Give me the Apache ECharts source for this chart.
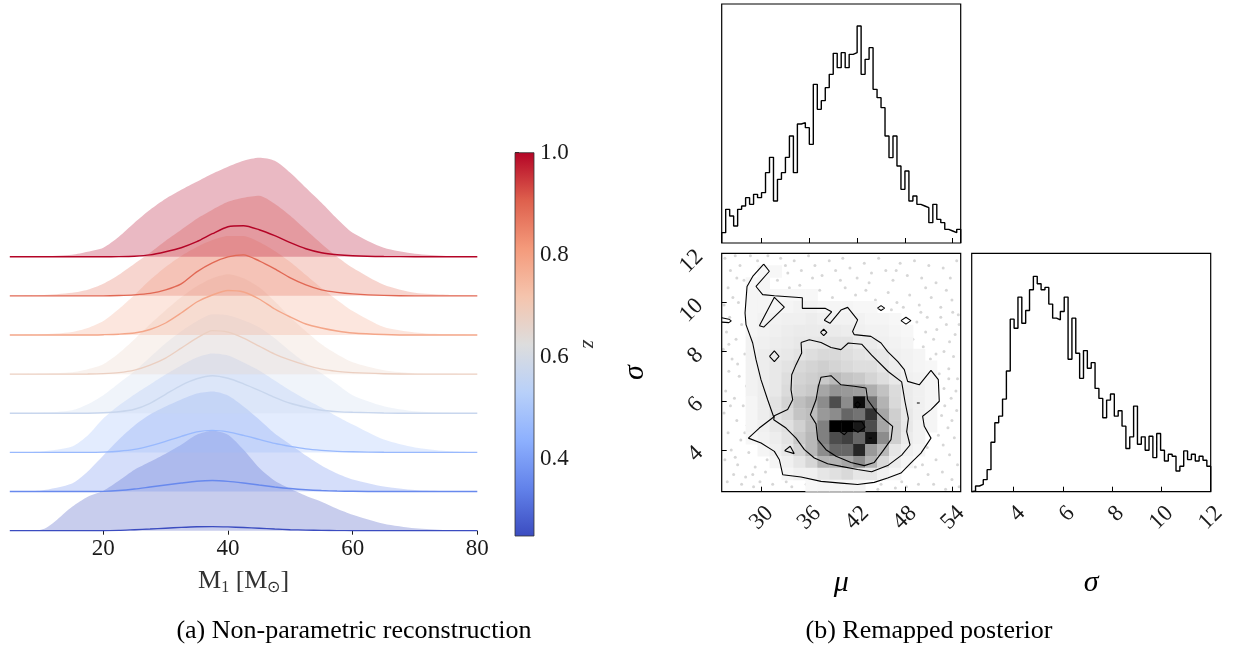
<!DOCTYPE html>
<html>
<head>
<meta charset="utf-8">
<title>Mass reconstruction and remapped posterior</title>
<script src="https://cdn.jsdelivr.net/npm/echarts@6/dist/echarts.min.js"></script>
<style>
  html, body { margin: 0; padding: 0; background: #fff; }
  #chart { width: 1236px; height: 646px; }
</style>
</head>
<body>
<div id="chart"></div>
<script>
// ---------- (a) ridges, bottom (lowest z) to top (z = 1) ----------
const massGrid = [5, 10, 15, 17.5, 20, 22.5, 25, 27.5, 30, 32.5, 35, 37.5, 40, 42.5, 45, 47.5, 50, 52.5, 55, 57.5, 60, 65, 70, 75, 80];
const massTicks = [20, 40, 60, 80];
const ridgeZ = [0.25, 0.357, 0.464, 0.571, 0.679, 0.786, 0.893, 1.0];
const zTicks = [0.4, 0.6, 0.8, 1.0];

// upper band of each ridge
const band0 = [0, 1, 24, 34, 40, 50, 61, 69, 77, 86, 96, 100, 96, 81, 63, 50, 42, 35, 29, 22, 16, 7, 2.5, 0.7, 0.2];
const band1 = [0, 1, 8, 20, 36, 52, 66, 77, 85, 92, 98, 100, 96, 85, 72, 58, 47, 36, 26, 18, 12, 5, 1.5, 0.4, 0];
const band2 = [0, 1, 6, 17, 34, 47, 58, 68, 78, 87, 95, 99, 97, 90, 82, 72, 62, 53, 45, 36, 28, 13, 5, 1.5, 0.3];
const band3 = [0, 0.5, 3, 9, 18, 30, 42, 56, 70, 82, 92, 99, 98, 93, 86, 75, 62, 50, 40, 29, 18, 7, 2, 0.5, 0];
const band4 = [0, 0.5, 2, 5, 10, 21, 35, 50, 64, 77, 88, 96, 100, 96, 87, 73, 57, 43, 30, 20, 12, 4, 1, 0.3, 0];
const band5 = [0, 0.5, 3, 7, 14, 26, 40, 55, 68, 79, 88, 95, 99, 99, 93, 84, 73, 60, 47, 35, 24, 8, 2.5, 0.7, 0.2];
const band6 = [0, 0.5, 3, 6, 12, 21, 32, 43, 55, 66, 77, 86, 94, 98, 100, 92, 80, 66, 52, 39, 28, 11, 3, 1, 0.3];
const band7 = [0, 0.3, 2, 5, 9, 20, 34, 47, 58, 67, 75, 83, 90, 96, 99, 96, 84, 69, 54, 38, 24, 9, 3, 0.8, 0.2];

// median curve of each ridge
const median0 = [0, 0, 0, 0, 0, 0.3, 1, 1.7, 2.5, 3.3, 3.9, 4.1, 3.8, 3.2, 2.5, 1.7, 1, 0.6, 0.3, 0.1, 0, 0, 0, 0, 0];
const median1 = [0, 0, 0, 0, 0.2, 1, 2.5, 4.5, 6.5, 8.5, 10.3, 11, 10.2, 8.5, 6.5, 4.6, 3, 1.8, 1, 0.5, 0.3, 0, 0, 0, 0];
const median2 = [0, 0, 0, 0, 0.3, 1.2, 3, 6.5, 11, 16, 20.5, 22, 20.5, 17, 13, 9, 6, 3.5, 2, 1, 0.6, 0.1, 0, 0, 0];
const median3 = [0, 0, 0, 0.1, 0.5, 1.5, 4, 10, 19, 28, 34.5, 37.5, 35, 29.5, 23, 16, 10, 6, 3, 1.7, 1, 0.3, 0, 0, 0];
const median4 = [0, 0, 0, 0.1, 0.5, 1.5, 4, 9, 16, 26, 36, 43.5, 42, 36, 28, 20, 14, 9, 5, 2.8, 1.5, 0.4, 0, 0, 0];
const median5 = [0, 0, 0, 0, 0.3, 0.8, 2, 5.5, 12, 22, 33, 40, 44.5, 43, 36, 26, 18, 11, 7, 4, 2, 0.5, 0, 0, 0];
const median6 = [0, 0, 0, 0, 0, 0.3, 1, 2.5, 6, 12, 24, 33, 39, 41, 35, 27, 18, 11, 6, 3.5, 2, 0.5, 0, 0, 0];
const median7 = [0, 0, 0, 0, 0, 0.1, 0.5, 1.8, 5, 9, 15, 23, 30, 31, 27, 21, 14, 8, 4, 2, 1, 0.2, 0, 0, 0];

// ---------- (b) corner plot ----------
const muRange = [25, 55];
const sigmaRange = [2.3, 12];
const muTicks = [30, 36, 42, 48, 54];
const sigmaTicks = [4, 6, 8, 10, 12];

const muCounts = [31, 101, 81, 51, 101, 111, 136, 116, 146, 136, 151, 211, 257, 126, 191,
  211, 257, 321, 211, 357, 361, 346, 296, 476, 401, 427, 466, 506, 569, 526,
  571, 526, 566, 571, 651, 506, 551, 586, 461, 436, 406, 321, 256, 321, 231,
  161, 216, 126, 141, 116, 111, 106, 61, 116, 71, 61, 41, 36, 31, 41];

const sigmaCounts = [2, 17, 22, 36, 66, 148, 206, 226, 277, 361, 516, 489, 582, 504, 542,
  604, 644, 622, 604, 611, 561, 519, 514, 539, 582, 396, 519, 414, 339, 422,
  369, 386, 309, 279, 221, 274, 292, 226, 242, 196, 129, 164, 256, 142, 164,
  124, 166, 102, 174, 124, 92, 112, 106, 62, 76, 122, 96, 112, 92, 106, 94, 76];

// 2D histogram, 20 x 20, top row (sigma high) first, darkness 0..100
const cellDensity = [
  [0,0,0,0,0,0,0,0,0,0,0,0,0,0,0,0,0,0,0,0],
  [0,0,0,3,3,0,0,0,0,0,0,0,0,0,0,0,0,0,0,0],
  [0,0,3,4,0,0,0,0,0,0,0,0,0,0,0,0,0,0,0,0],
  [0,0,4,4,3,3,3,3,0,0,0,0,0,0,0,0,0,0,0,0],
  [0,0,4,4,4,4,5,5,4,4,4,3,3,0,0,0,0,0,0,0],
  [0,0,4,5,5,6,6,7,6,5,5,5,4,4,3,0,0,0,0,0],
  [0,0,4,5,6,7,8,8,8,8,7,6,5,5,4,3,0,0,0,0],
  [0,0,5,6,7,8,9,9,10,11,11,8,8,6,5,4,0,0,0,0],
  [0,0,5,7,8,9,11,13,15,15,13,11,10,9,6,5,4,0,0,0],
  [0,0,5,7,9,11,15,17,19,17,15,13,13,10,7,5,4,3,0,0],
  [0,0,5,7,9,13,17,19,21,27,23,21,17,13,9,6,5,4,0,0],
  [0,0,5,7,9,14,19,21,35,42,40,38,32,24,14,8,6,4,0,0],
  [0,0,4,7,11,17,25,30,45,70,45,95,55,30,15,8,6,4,0,0],
  [0,0,4,7,11,15,23,26,40,45,60,55,80,35,19,9,6,4,0,0],
  [0,0,4,6,9,12,18,26,50,100,100,90,70,35,19,9,5,4,0,0],
  [0,0,3,5,7,11,21,28,50,70,75,60,92,45,19,8,5,0,0,0],
  [0,0,0,4,6,9,17,28,45,60,60,85,40,28,10,6,4,0,0,0],
  [0,0,0,0,4,6,10,16,30,30,35,45,30,15,7,4,0,0,0,0],
  [0,0,0,0,0,4,6,6,10,12,15,10,10,6,4,0,0,0,0,0],
  [0,0,0,0,0,0,0,3,4,4,4,4,0,0,0,0,0,0,0,0]
];

// contour levels, [mu, sigma]
const outerContour = [[30.27,11.56],[30.98,11.27],[29.31,10.65],[30.14,10.32],[31.61,10.27],[35.12,10.19],
  [35.12,9.76],[37.97,9.76],[38.8,9.62],[37.88,9.28],[38.59,9.15],[39.97,9.69],[40.81,9.8],[42.06,9.29],
  [41.43,8.82],[41.64,8.69],[43.73,8.62],[45.0,8.35],[45.83,8.0],[47.08,7.6],[47.92,7.27],[48.34,6.79],
  [49.8,6.65],[51.27,7.24],[52.19,6.86],[52.31,5.98],[51.27,5.64],[50.22,5.37],[50.43,4.96],[51.27,4.48],
  [50.01,3.87],[48.76,3.47],[47.5,3.06],[45.83,2.86],[44.15,2.68],[42.06,2.59],[39.97,2.65],[37.47,2.72],
  [34.96,2.9],[32.66,2.99],[32.24,3.6],[31.61,3.94],[29.94,4.28],[28.35,4.48],[29.72,4.89],[31.53,5.34],
  [30.77,6.04],[29.93,6.86],[29.31,7.67],[28.89,8.35],[28.05,9.1],[27.93,9.57],[28.18,10.65],[28.89,11.06],
  [30.27,11.56]];
const middleContour = [[34.96,8.37],[36.0,8.48],[37.47,8.37],[38.72,8.17],[39.97,8.08],[40.89,8.35],
  [42.57,8.3],[43.82,7.86],[45.92,7.18],[47.59,6.77],[48.01,5.96],[48.43,5.28],[48.22,4.74],[48.64,4.2],
  [47.59,3.79],[45.92,3.38],[43.82,3.11],[42.06,3.2],[39.97,3.33],[38.3,3.44],[36.63,3.67],[35.38,4.01],
  [34.33,4.48],[33.07,4.89],[31.53,5.23],[31.61,5.39],[33.28,5.64],[33.91,6.04],[33.7,6.45],[33.79,7.06],
  [34.33,7.47],[35.04,7.94],[34.96,8.37]];
const innerContour = [[39.97,6.65],[38.72,7.02],[37.47,6.96],[37.13,6.58],[36.84,6.04],[36.13,5.43],
  [36.84,5.06],[37.05,4.42],[38.09,4.01],[39.35,3.74],[41.23,3.49],[42.9,3.36],[44.15,3.49],[45.2,3.94],
  [46.25,4.42],[46.46,4.96],[45.2,5.3],[44.36,5.57],[43.32,6.04],[43.11,6.52],[41.64,6.59],[39.97,6.65]];
const peakContour = [[39.0,4.95],[40.1,5.15],[42.6,5.15],[43.0,4.92],[42.1,4.72],[41.2,4.9],[40.4,4.62],[39.0,4.95]];
const islandContours = [
  [[29.73,9.05],[31.61,10.21],[32.86,9.81],[30.27,9.0],[29.73,9.05]],
  [[31.0,7.81],[31.61,8.03],[32.2,7.81],[31.61,7.59],[31.0,7.81]],
  [[37.4,8.78],[37.8,8.91],[38.2,8.78],[37.8,8.65],[37.4,8.78]],
  [[44.55,9.77],[45.0,9.87],[45.45,9.77],[45.0,9.67],[44.55,9.77]],
  [[47.5,9.26],[48.13,9.4],[48.75,9.26],[48.13,9.12],[47.5,9.26]],
  [[49.5,5.91],[49.68,5.98],[49.86,5.91],[49.68,5.84],[49.5,5.91]],
  [[32.9,3.97],[33.6,4.15],[34.1,3.85],[32.9,3.97]],
  [[25.0,9.38],[25.9,9.32],[26.2,9.25],[25.9,9.18],[25.0,9.2]],
  [[41.7,5.84],[42.06,5.97],[42.4,5.84],[42.06,5.71],[41.7,5.84]],
  [[43.45,4.48],[43.65,4.56],[43.85,4.48],[43.65,4.4],[43.45,4.48]]
];

// samples that fall outside the lowest contour
const samplePoints = [
  [25.4,11.8],[26.1,11.3],[25.8,10.6],[26.7,11.9],[27.3,11.5],[26.4,10.2],[25.3,9.9],[27.8,10.9],[27.1,10.0],[26.0,9.4],
  [25.6,8.8],[26.8,8.5],[27.5,9.1],[25.2,8.1],[26.3,7.7],[27.9,7.9],[25.9,7.2],[27.2,7.0],[28.1,6.6],[25.5,6.4],
  [26.6,6.1],[27.7,5.8],[25.3,5.5],[26.9,5.2],[28.2,5.0],[25.8,4.7],[27.4,4.4],[26.2,4.0],[25.4,3.6],[27.0,3.4],
  [28.4,3.9],[26.5,3.0],[25.7,2.7],[28.0,2.9],[29.2,3.3],[29.8,2.7],[30.5,3.1],[31.4,2.6],[29.0,2.5],[27.5,2.6],
  [28.6,11.9],[29.5,11.7],[30.8,11.9],[31.6,11.4],[32.4,11.8],[33.3,11.2],[34.1,11.7],[35.0,11.3],[35.9,11.9],[36.7,11.5],
  [37.6,11.1],[38.5,11.7],[39.3,11.3],[40.2,11.8],[41.1,11.4],[42.0,11.0],[42.9,11.6],[43.8,11.2],[44.7,11.8],[45.6,11.3],
  [46.5,10.9],[47.4,11.6],[48.3,11.1],[49.2,11.7],[50.1,11.0],[51.0,11.5],[51.9,10.8],[52.8,11.4],[53.7,11.0],[54.5,11.7],
  [32.0,10.9],[33.5,10.6],[34.8,10.7],[36.2,10.4],[37.3,10.5],[38.9,10.2],[40.5,10.6],[41.8,10.3],[43.1,10.5],[44.3,10.1],
  [45.9,10.4],[47.0,10.0],[48.6,10.3],[49.8,9.9],[51.3,10.2],[52.5,9.8],[53.9,10.1],[54.7,9.5],[40.9,9.95],[42.7,9.9],
  [49.5,9.2],[50.8,9.4],[52.0,8.9],[53.2,9.1],[54.3,8.7],[49.0,8.5],[50.3,8.2],[51.6,8.5],[52.9,8.0],[54.1,7.8],
  [48.6,7.8],[49.9,7.5],[51.2,7.7],[53.5,7.3],[54.6,6.9],[52.9,6.5],[53.8,6.1],[54.5,5.6],[52.6,5.4],[53.4,4.9],
  [54.2,4.5],[52.8,4.2],[53.6,3.8],[54.6,3.4],[51.9,3.6],[52.7,3.1],[53.9,2.8],[50.9,3.0],[51.6,2.6],[49.7,2.6],
  [48.2,2.5],[46.8,2.45],[44.6,2.4],[54.8,2.5],[53.1,2.4],[52.3,7.1],[51.8,6.2],[53.0,5.8],[54.0,9.6],[50.6,8.8],
  [29.0,9.9],[28.6,8.9],[28.8,7.4],[29.5,6.2],[30.2,5.6],[29.1,4.9],[30.6,4.6],[31.5,4.2],[30.7,3.6],[32.5,3.3],
  [33.6,9.9],[35.5,9.95],[37.0,10.0],[39.6,9.8],[44.0,9.4],[46.0,9.2],[47.2,8.7],[48.5,7.3],[50.5,6.9],[49.2,6.5],
  [51.5,4.8],[50.8,4.1],[49.3,3.3],[45.0,2.6],[35.6,2.6],[33.8,2.5],[38.0,2.45],[40.8,2.4],[42.5,2.45],[36.9,2.35],
  [26.9,11.0],[28.3,10.4],[29.9,11.2],[33.0,11.5],[36.4,11.0],[39.9,10.9],[43.5,10.8],[46.9,11.3],[50.6,10.6],[53.2,10.5],
  [25.9,8.3],[27.0,7.5],[26.1,5.8],[27.9,4.7],[26.7,3.7],[28.9,3.0],[33.1,2.7],[47.6,2.7],[50.2,3.4],[52.2,4.6],
  [53.9,5.2],[54.4,6.4],[53.5,6.9],[51.9,7.9],[53.6,8.4],[54.8,9.1],[52.5,9.4],[50.0,9.6],[47.8,9.8],[46.3,9.7]
];

// ---------- helpers ----------
const serif = 'Liberation Serif';
const ink = '#1a1a1a';
const ridgeGap = 39.14;
const bands = [band0, band1, band2, band3, band4, band5, band6, band7];
const medians = [median0, median1, median2, median3, median4, median5, median6, median7];

// matplotlib coolwarm, sampled at 9 points
const coolwarm = [[59,76,192],[98,130,234],[141,176,254],[184,208,249],[221,221,221],
  [245,196,173],[244,154,123],[222,96,77],[180,4,38]];
function cmap(t) {
  t = Math.max(0, Math.min(1, t));
  const s = t * (coolwarm.length - 1);
  const i = Math.min(coolwarm.length - 2, Math.floor(s));
  const f = s - i;
  const c = coolwarm[i].map((v, j) => Math.round(v + (coolwarm[i + 1][j] - v) * f));
  return 'rgb(' + c.join(',') + ')';
}
const zMin = ridgeZ[0], zMax = ridgeZ[ridgeZ.length - 1];
const ridgeColor = k => cmap((ridgeZ[k] - zMin) / (zMax - zMin));

function stepData(lo, hi, counts) {
  const w = (hi - lo) / counts.length;
  const pts = [[lo, 0]];
  counts.forEach((c, i) => pts.push([lo + i * w, c]));
  pts.push([hi, counts[counts.length - 1]]);
  pts.push([hi, 0]);
  return pts;
}

const series = [];

// ridge bands: stacked on an invisible baseline; y is put first so it is the stacked dimension
bands.forEach((b, k) => {
  const off = k * ridgeGap;
  series.push({
    type: 'line', xAxisIndex: 0, yAxisIndex: 0, stack: 'ridge' + k,
    data: massGrid.map(m => [off, m]), encode: { x: 1, y: 0 },
    symbol: 'none', lineStyle: { opacity: 0 }, silent: true, z: 1
  });
  series.push({
    type: 'line', xAxisIndex: 0, yAxisIndex: 0, stack: 'ridge' + k,
    data: massGrid.map((m, i) => [b[i], m]), encode: { x: 1, y: 0 },
    smooth: 0.25, symbol: 'none', lineStyle: { opacity: 0 },
    areaStyle: { color: ridgeColor(k), opacity: 0.28 }, silent: true, z: 1
  });
});
medians.forEach((med, k) => {
  series.push({
    type: 'line', xAxisIndex: 0, yAxisIndex: 0,
    data: massGrid.map((m, i) => [m, k * ridgeGap + med[i]]),
    smooth: 0.25, symbol: 'none',
    lineStyle: { color: ridgeColor(k), width: 1.4 }, silent: true, z: 3
  });
});

// colour bar
series.push({
  type: 'custom', xAxisIndex: 1, yAxisIndex: 1, silent: true,
  data: [[0, zMin, 1, zMax]],
  encode: { x: [0, 2], y: [1, 3] },
  renderItem: (params, api) => {
    const p0 = api.coord([api.value(0), api.value(1)]);
    const p1 = api.coord([api.value(2), api.value(3)]);
    const stops = coolwarm.map((c, i) => ({ offset: i / (coolwarm.length - 1), color: 'rgb(' + c.join(',') + ')' }));
    return {
      type: 'rect',
      shape: { x: p0[0], y: p1[1], width: p1[0] - p0[0], height: p0[1] - p1[1] },
      style: { fill: new echarts.graphic.LinearGradient(0, 1, 0, 0, stops), stroke: '#333', lineWidth: 0.8 }
    };
  }
});

// marginal histograms
series.push({
  type: 'line', xAxisIndex: 2, yAxisIndex: 2, step: 'end', symbol: 'none', silent: true,
  data: stepData(muRange[0], muRange[1], muCounts),
  lineStyle: { color: '#000', width: 1.4 }
});
series.push({
  type: 'line', xAxisIndex: 4, yAxisIndex: 4, step: 'end', symbol: 'none', silent: true,
  data: stepData(sigmaRange[0], sigmaRange[1], sigmaCounts),
  lineStyle: { color: '#000', width: 1.4 }
});

// joint panel: samples, white fill inside lowest contour, density cells, contour lines
series.push({
  type: 'scatter', xAxisIndex: 3, yAxisIndex: 3, silent: true, z: 1,
  data: samplePoints, symbolSize: 3,
  itemStyle: { color: 'rgba(0,0,0,0.2)' }
});
series.push({
  type: 'custom', xAxisIndex: 3, yAxisIndex: 3, silent: true, z: 2, clip: true,
  data: [[outerContour[0][0], outerContour[0][1]]],
  renderItem: (params, api) => ({
    type: 'polygon',
    shape: { points: outerContour.map(p => api.coord(p)) },
    style: { fill: '#fff' }
  })
});
const nRows = cellDensity.length, nCols = cellDensity[0].length;
const muStep = (muRange[1] - muRange[0]) / nCols;
const sgStep = (sigmaRange[1] - sigmaRange[0]) / nRows;
const cells = [];
cellDensity.forEach((row, ri) => {
  const r = nRows - 1 - ri;
  row.forEach((v, c) => { if (v > 0) cells.push([c, r, v]); });
});
series.push({
  type: 'custom', xAxisIndex: 3, yAxisIndex: 3, silent: true, z: 3, clip: true,
  data: cells,
  encode: { x: 0, y: 1 },
  renderItem: (params, api) => {
    const c = api.value(0), r = api.value(1), v = api.value(2);
    const p0 = api.coord([muRange[0] + c * muStep, sigmaRange[0] + r * sgStep]);
    const p1 = api.coord([muRange[0] + (c + 1) * muStep, sigmaRange[0] + (r + 1) * sgStep]);
    const g = Math.round(255 * (1 - v / 100));
    return {
      type: 'rect',
      shape: { x: p0[0], y: p1[1], width: p1[0] - p0[0] + 0.5, height: p0[1] - p1[1] + 0.5 },
      style: { fill: 'rgb(' + g + ',' + g + ',' + g + ')' }
    };
  }
});
[outerContour, middleContour, innerContour, peakContour].concat(islandContours).forEach(loop => {
  series.push({
    type: 'line', xAxisIndex: 3, yAxisIndex: 3, silent: true, z: 5,
    data: loop, symbol: 'none',
    lineStyle: { color: '#000', width: 1.1 }
  });
});

// ---------- axes ----------
const tickFont = { fontFamily: serif, fontSize: 23, color: ink };
const captionFont = { fontFamily: serif, fontSize: 26, fontWeight: 'normal', color: '#000' };

const option = {
  animation: false,
  backgroundColor: '#fff',
  title: [
    { text: '(a) Non-parametric reconstruction', left: 349, top: 613, textAlign: 'center', textStyle: captionFont },
    { text: '(b) Remapped posterior', left: 924, top: 613, textAlign: 'center', textStyle: captionFont }
  ],
  grid: [
    { left: 9.8, top: 150, width: 467.5, height: 380.7 },
    { left: 515, top: 152.7, width: 19, height: 383.3 },
    { left: 721.7, top: 4, width: 239, height: 239, show: true, borderColor: '#000', borderWidth: 1.2 },
    { left: 721.7, top: 253.3, width: 239, height: 238.4, show: true, borderColor: '#000', borderWidth: 1.2 },
    { left: 971.7, top: 253.3, width: 239, height: 238.4, show: true, borderColor: '#000', borderWidth: 1.2 }
  ],
  xAxis: [
    {
      gridIndex: 0, type: 'value', min: massGrid[0], max: massGrid[massGrid.length - 1],
      axisLine: { show: false }, splitLine: { show: false },
      axisTick: { show: true, length: 4, customValues: massTicks, lineStyle: { color: ink } },
      axisLabel: { customValues: massTicks, margin: 7, ...tickFont },
      name: 'M{s|1} [M{s|\u2299}]', nameLocation: 'middle', nameGap: 35,
      nameTextStyle: { fontFamily: serif, fontSize: 26, color: '#333',
        rich: { s: { fontFamily: serif, fontSize: 16, color: '#333', padding: [14, 0, 0, 0] } } }
    },
    { gridIndex: 1, type: 'value', min: 0, max: 1, show: false },
    {
      gridIndex: 2, type: 'value', min: muRange[0], max: muRange[1],
      axisLine: { show: false }, splitLine: { show: false },
      axisTick: { inside: true, length: 5, customValues: muTicks, lineStyle: { color: '#000' } },
      axisLabel: { show: false }
    },
    {
      gridIndex: 3, type: 'value', min: muRange[0], max: muRange[1],
      axisLine: { show: false }, splitLine: { show: false },
      axisTick: { inside: true, length: 5, customValues: muTicks, lineStyle: { color: '#000' } },
      axisLabel: { customValues: muTicks, rotate: 45, margin: 10, verticalAlign: 'top', ...tickFont },
      name: '\u03bc', nameLocation: 'middle', nameGap: 76,
      nameTextStyle: { fontFamily: serif, fontSize: 30, fontStyle: 'italic', color: '#000' }
    },
    {
      gridIndex: 4, type: 'value', min: sigmaRange[0], max: sigmaRange[1],
      axisLine: { show: false }, splitLine: { show: false },
      axisTick: { inside: true, length: 5, customValues: sigmaTicks, lineStyle: { color: '#000' } },
      axisLabel: { customValues: sigmaTicks, rotate: 45, margin: 10, verticalAlign: 'top', ...tickFont },
      name: '\u03c3', nameLocation: 'middle', nameGap: 76,
      nameTextStyle: { fontFamily: serif, fontSize: 30, fontStyle: 'italic', color: '#000' }
    }
  ],
  yAxis: [
    { gridIndex: 0, type: 'value', min: 0, max: 380.7, show: false },
    {
      gridIndex: 1, type: 'value', min: zMin, max: zMax, position: 'right',
      axisLine: { show: false }, splitLine: { show: false },
      axisTick: { length: 4, customValues: zTicks, lineStyle: { color: ink } },
      axisLabel: { customValues: zTicks, margin: 6, formatter: v => v.toFixed(1), ...tickFont },
      name: 'z', nameLocation: 'middle', nameGap: 44, nameRotate: -90,
      nameTextStyle: { fontFamily: serif, fontSize: 22, fontStyle: 'italic', color: '#333' }
    },
    { gridIndex: 2, type: 'value', min: 0, max: 717, show: false },
    {
      gridIndex: 3, type: 'value', min: sigmaRange[0], max: sigmaRange[1],
      axisLine: { show: false }, splitLine: { show: false },
      axisTick: { inside: true, length: 5, customValues: sigmaTicks, lineStyle: { color: '#000' } },
      axisLabel: { customValues: sigmaTicks, rotate: 45, margin: 22, ...tickFont },
      name: '\u03c3', nameLocation: 'middle', nameGap: 72, nameRotate: 90,
      nameTextStyle: { fontFamily: serif, fontSize: 30, fontStyle: 'italic', color: '#000' }
    },
    { gridIndex: 4, type: 'value', min: 0, max: 713, show: false }
  ],
  series: series
};

const chart = echarts.init(document.getElementById('chart'));
chart.setOption(option);
</script>
</body>
</html>
